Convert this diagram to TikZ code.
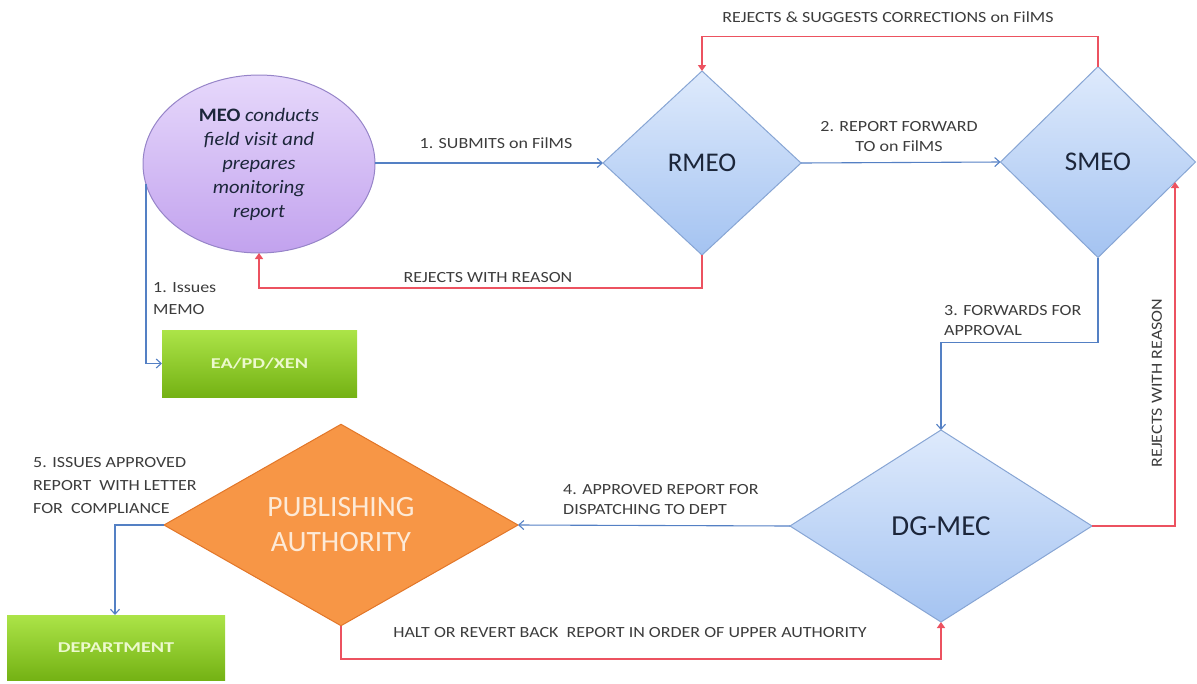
\documentclass[tikz,border=0pt]{standalone}
\usepackage{fontspec}
\setmainfont{Carlito}
\newfontfamily\labfont[FakeStretch=1.16]{Carlito}
\newfontfamily\boxfont[FakeStretch=1.35]{Carlito}
\newfontfamily\ellfont[FakeStretch=1.08]{Carlito}
\usetikzlibrary{shapes.geometric,arrows.meta,calc}
\definecolor{blueline}{RGB}{84,128,196}
\definecolor{redline}{RGB}{236,82,96}
\definecolor{labtxt}{RGB}{60,60,60}
\definecolor{diatop}{RGB}{222,234,252}
\definecolor{diabot}{RGB}{164,195,241}
\definecolor{diaedge}{RGB}{135,165,212}
\definecolor{elltop}{RGB}{230,216,251}
\definecolor{ellbot}{RGB}{194,162,238}
\definecolor{elledge}{RGB}{150,132,200}
\definecolor{grtop}{RGB}{172,228,72}
\definecolor{grbot}{RGB}{116,178,20}
\definecolor{grtxt}{RGB}{236,249,205}
\definecolor{orfill}{RGB}{247,150,70}
\definecolor{oredge}{RGB}{226,118,40}
\definecolor{ortxt}{RGB}{253,234,215}
\definecolor{diatxt}{RGB}{28,38,58}
\tikzset{
  dia/.style={diamond, aspect=1, inner sep=0pt, outer sep=0pt, draw=diaedge, line width=1pt,
    top color=diatop, bottom color=diabot, text=diatxt, font=\fontsize{27}{30}\selectfont},
  greenbox/.style={rectangle, inner sep=0pt, outer sep=0pt, top color=grtop, bottom color=grbot,
    text=grtxt, font=\boxfont\fontsize{15}{17}\selectfont\bfseries},
  lab/.style={text=labtxt, font=\labfont\fontsize{15.5}{20}\selectfont, inner sep=0pt},
  bluearrow/.style={draw=blueline, line width=1.1pt, -{Straight Barb[length=5pt,width=9pt]}},
  redarrow/.style={draw=redline, line width=1.6pt, -{Triangle[length=6pt,width=8pt]}}
}
\begin{document}
\begin{tikzpicture}[x=1pt,y=-1pt]
\useasboundingbox (0,0) rectangle (1197,683);
% nodes
\node[ellipse, minimum width=232pt, minimum height=178pt, inner sep=0pt, outer sep=0pt,
  draw=elledge, line width=1pt, top color=elltop, bottom color=ellbot, text=diatxt,
  align=center, font=\ellfont\fontsize{19}{24}\selectfont] (meo) at (259,164)
  {\textbf{MEO} \textit{conducts}\\ \textit{field visit and}\\ \textit{prepares}\\ \textit{monitoring}\\ \textit{report}};
\node[dia, minimum width=198pt, minimum height=184pt] (rmeo) at (702,163) {RMEO};
\node[dia, minimum width=195pt, minimum height=191pt] (smeo) at (1098,162) {SMEO};
\node[dia, minimum width=302pt, minimum height=192pt, font=\fontsize{29}{32}\selectfont] (dg) at (941,526) {DG-MEC};
\node[diamond, aspect=1, inner sep=0pt, outer sep=0pt, minimum width=354pt, minimum height=195pt,
  fill=orfill, draw=oredge, line width=1pt, text=ortxt, align=center,
  font=\fontsize{29.5}{35}\selectfont] (pa) at (341,525) {PUBLISHING\\AUTHORITY};
\node[greenbox, minimum width=195pt, minimum height=67pt] (ea) at (259.5,363.5) {EA/PD/XEN};
\node[greenbox, minimum width=218pt, minimum height=65pt] (dept) at (116,647.5) {DEPARTMENT};
% helper coordinates
\coordinate (smeoin) at ($(smeo.east)!0.21!(smeo.south)$);
% connectors
\draw[bluearrow] (meo.east |- rmeo.west) -- (rmeo.west);
\draw[bluearrow] (rmeo.east) -- (smeo.west);
\draw[redarrow] (rmeo.south) -- ++(0,33) -| (meo.south);
\draw[redarrow] (smeo.north) -- ++(0,-30) -| (rmeo.north);
\draw[bluearrow] (smeo.south) -- ++(0,85) -| (dg.north);
\draw[redarrow] (dg.east) -| (smeoin);
\draw[bluearrow] (dg.west) -- (pa.east);
\draw[redarrow] (pa.south) -- ++(0,33) -| (dg.south);
\draw[bluearrow] (pa.west) -| (dept.north -| 115,0);
\draw[bluearrow] (meo.190) |- (ea.west);
% labels
\node[lab] (l1) at (496,143) {1. SUBMITS on FilMS};
\node[lab] (l2) at (488,278) {REJECTS WITH REASON};
\node[lab, align=center] (l3) at (899,137) {2. REPORT FORWARD\\TO on FilMS};
\node[lab] (l4) at (888,17) {REJECTS \& SUGGESTS CORRECTIONS on FilMS};
\node[lab, align=left, anchor=west] (l5) at (944,321) {3. FORWARDS FOR\\APPROVAL};
\node[lab, rotate=90] (l6) at (1157,383) {REJECTS WITH REASON};
\node[lab, align=left, anchor=west] (l7) at (563,500) {4. APPROVED REPORT FOR\\DISPATCHING TO DEPT};
\node[lab] (l8) at (630,633) {HALT OR REVERT BACK\ \ REPORT IN ORDER OF UPPER AUTHORITY};
\node[lab, align=left, anchor=west, font=\labfont\fontsize{15.5}{23}\selectfont] (l9) at (33,486) {5. ISSUES APPROVED\\REPORT\ \ WITH LETTER\\FOR\ \ COMPLIANCE};
\node[lab, align=left, anchor=west, font=\labfont\fontsize{15.5}{22}\selectfont] (l10) at (153,299) {1. Issues\\MEMO};
\end{tikzpicture}
\end{document}
